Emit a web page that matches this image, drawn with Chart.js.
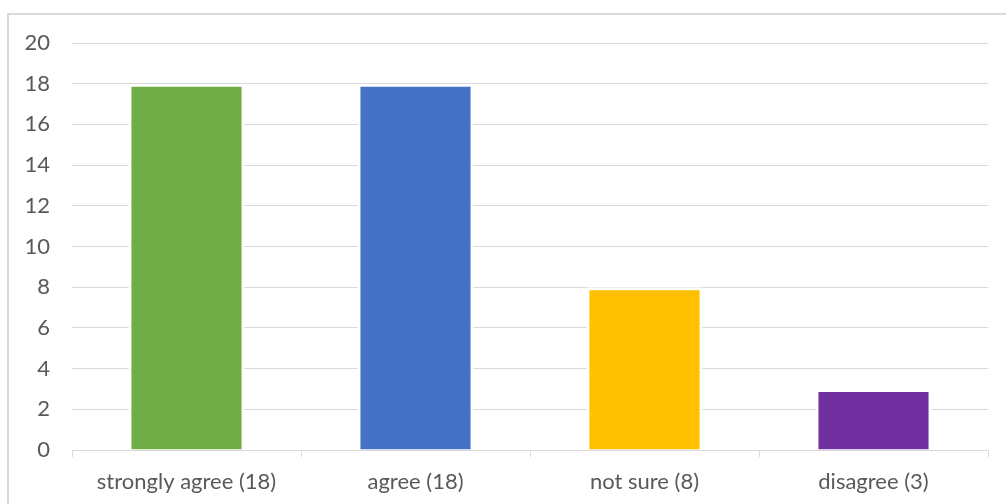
<!DOCTYPE html>
<html>
<head>
<meta charset="utf-8">
<script src="https://cdn.jsdelivr.net/npm/chart.js@4"></script>
<style>
    html, body { margin: 0; padding: 0; background: #fff; overflow: hidden; }
    #frame {
        position: absolute; left: 7px; top: 13px;
        width: 1010px; height: 510px;
        border: 2px solid #d9d9d9;
    }
    #chart { position: absolute; left: 0; top: 0; }
</style>
</head>
<body>
<div id="frame"></div>
<canvas id="chart" width="1006" height="504"></canvas>
<script>
const categories = ['strongly agree', 'agree', 'not sure', 'disagree'];
const responses = [18, 18, 8, 3];
const barColors = ['#70AD47', '#4472C4', '#FFC000', '#7030A0'];
const yTicks = [0, 2, 4, 6, 8, 10, 12, 14, 16, 18, 20];

document.addEventListener('DOMContentLoaded', function () {
    const ctx = document.getElementById('chart').getContext('2d');
    const labels = categories.map((c, i) => c + ' (' + responses[i] + ')');
    const font = { family: 'Lato, "Open Sans", sans-serif', size: 22 };

    new Chart(ctx, {
        type: 'bar',
        data: {
            labels: labels,
            datasets: [{
                label: 'Responses',
                data: responses,
                backgroundColor: barColors,
                borderColor: '#ffffff',
                borderWidth: 3,
                categoryPercentage: 1,
                barPercentage: 0.507
            }]
        },
        options: {
            responsive: false,
            animation: false,
            layout: { padding: { left: 0, right: 18, top: 43, bottom: 0 } },
            scales: {
                x: {
                    offset: true,
                    grid: {
                        offset: true,
                        drawOnChartArea: false,
                        color: '#d9d9d9',
                        tickLength: 7
                    },
                    border: { color: '#d9d9d9', width: 1 },
                    ticks: { color: '#595959', font: font, padding: 12, maxRotation: 0 },
                    afterFit: (scale) => { scale.height = 54; }
                },
                y: {
                    min: yTicks[0],
                    max: yTicks[yTicks.length - 1],
                    afterBuildTicks: (scale) => { scale.ticks = yTicks.map(v => ({ value: v })); },
                    grid: { color: '#d9d9d9', drawTicks: false },
                    border: { display: false },
                    ticks: { color: '#595959', font: font, padding: 22 },
                    afterFit: (scale) => { scale.width = 72; }
                }
            },
            plugins: {
                legend: { display: false },
                tooltip: { enabled: false }
            }
        }
    });
});
</script>
</body>
</html>
